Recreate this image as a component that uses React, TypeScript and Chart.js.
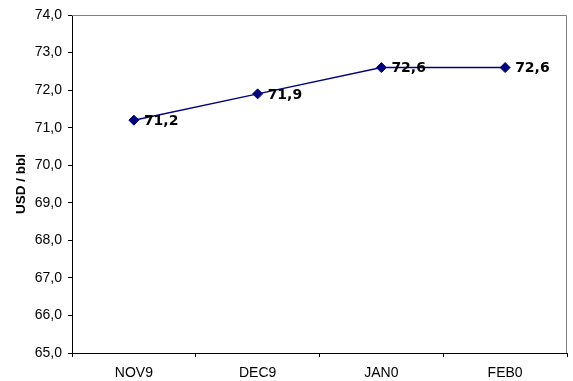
import React, { useEffect, useRef } from "react";
import { Chart, registerables } from "chart.js";

Chart.register(...registerables);

const categories = ["NOV9", "DEC9", "JAN0", "FEB0"];
const prices = [71.2, 71.9, 72.6, 72.6];
const yMin = 65;
const yMax = 74;
const yTitle = "USD / bbl";

const fmt = (v: number) => v.toFixed(1).replace(".", ",");

const frameAndLabels = {
  id: "frameAndLabels",
  afterDatasetsDraw(chart: any) {
    const { ctx, chartArea } = chart;
    ctx.save();
    ctx.strokeStyle = "#808080";
    ctx.lineWidth = 1;
    ctx.beginPath();
    ctx.moveTo(chartArea.left, chartArea.top + 0.5);
    ctx.lineTo(chartArea.right - 0.5, chartArea.top + 0.5);
    ctx.lineTo(chartArea.right - 0.5, chartArea.bottom);
    ctx.stroke();
    const meta = chart.getDatasetMeta(0);
    ctx.fillStyle = "#000";
    ctx.font = "bold 14px 'DejaVu Sans', Verdana, sans-serif";
    ctx.textBaseline = "middle";
    ctx.textAlign = "left";
    meta.data.forEach((pt: any, i: number) => {
      ctx.fillText(fmt(prices[i]), pt.x + 10, pt.y + 1);
    });
    ctx.restore();
  },
};

export default function App() {
  const ref = useRef<HTMLCanvasElement>(null);
  useEffect(() => {
    document.body.style.margin = "0";
    const chart = new Chart(ref.current!, {
      type: "line",
      data: {
        labels: categories,
        datasets: [
          {
            data: prices,
            borderColor: "#000080",
            backgroundColor: "#000080",
            borderWidth: 1.5,
            pointStyle: "rectRot",
            pointRadius: 5,
            pointBorderWidth: 1,
            tension: 0,
          },
        ],
      },
      options: {
        responsive: false,
        animation: false,
        layout: { padding: { top: 15, right: 6, left: 0, bottom: 0 } },
        plugins: { legend: { display: false }, tooltip: { enabled: false } },
        scales: {
          x: {
            offset: true,
            grid: {
              offset: true,
              drawOnChartArea: false,
              drawTicks: true,
              tickLength: 4,
              color: "#000",
            },
            border: { color: "#000", width: 1 },
            ticks: {
              color: "#000",
              font: { family: "'Liberation Sans', Arial, sans-serif", size: 14 },
              padding: 8,
            },
            afterFit(scale: any) {
              scale.height = 28;
            },
          },
          y: {
            min: yMin,
            max: yMax,
            grid: {
              drawOnChartArea: false,
              drawTicks: true,
              tickLength: 4,
              color: "#000",
            },
            border: { color: "#000", width: 1 },
            ticks: {
              stepSize: 1,
              color: "#000",
              padding: 6,
              font: { family: "'Liberation Sans', Arial, sans-serif", size: 14 },
              callback: (v: any) => fmt(Number(v)),
            },
            title: {
              display: true,
              text: yTitle,
              color: "#000",
              font: { family: "'Liberation Sans', Arial, sans-serif", size: 13.5, weight: "bold" },
              padding: { top: 13, bottom: 0 },
            },
            afterFit(scale: any) {
              scale.width = 72;
            },
          },
        },
      },
      plugins: [frameAndLabels],
    });
    return () => chart.destroy();
  }, []);
  return <canvas ref={ref} width={573} height={381} />;
}
